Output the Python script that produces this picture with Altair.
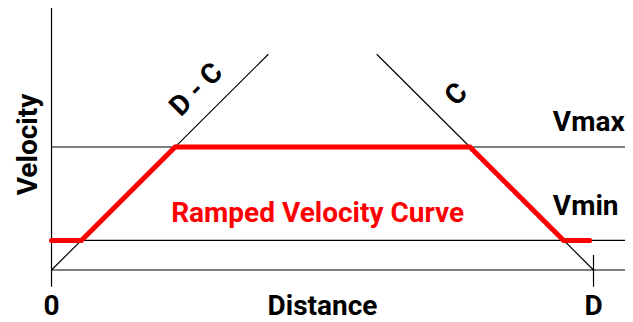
import altair as alt
import pandas as pd

# ---- data (distance: 0 .. D = 100 ; velocity: Vmax = 100) ----
D_DIST = 100
V_MAX = 100
V_MIN = 24

# horizontal reference levels: axis (0), Vmin, Vmax
level_y = [0, V_MIN, V_MAX]

# "D - C" acceleration guide line and "C" deceleration guide line
accel_x = [0, 40]
accel_y = [0, 175.4]
decel_x = [60, 100]
decel_y = [175.4, 0]

# ramped velocity curve
curve_x = [0, 5.5, 22.8, 77.2, 94.5, 99.3]
curve_y = [V_MIN, V_MIN, V_MAX, V_MAX, V_MIN, V_MIN]

# axis tick labels and titles
tick_text = ["0", "D"]
tick_x = [0, D_DIST]
x_title = "Distance"
y_title = "Velocity"
level_text = ["Vmax", "Vmin"]
line_text = ["D - C", "C"]
curve_text = "Ramped Velocity Curve"

# ---- scales ----
X_DOM = [-8.03, 105.81]
Y_DOM = [-42.28, 213.0]
xs = alt.Scale(domain=X_DOM, nice=False, zero=False)
ys = alt.Scale(domain=Y_DOM, nice=False, zero=False)
FONT = "Roboto"
FS = 28
LINE = "#000"
LW = 1.2

def X(f="x"):
    return alt.X(f"{f}:Q", scale=xs, axis=None)

def Y(f="y"):
    return alt.Y(f"{f}:Q", scale=ys, axis=None)

levels = pd.DataFrame({"y": level_y, "x": [0] * 3, "x2": [X_DOM[1]] * 3})
h_rules = alt.Chart(levels).mark_rule(color=LINE, strokeWidth=LW).encode(
    x=X(), x2="x2:Q", y=Y()
)

yaxis = pd.DataFrame({"x": [0, D_DIST], "y": [-13.6, -13.6], "y2": [Y_DOM[1], 12.2]})
v_rules = alt.Chart(yaxis).mark_rule(color=LINE, strokeWidth=LW).encode(
    x=X(), y=Y(), y2="y2:Q"
)

guides = pd.DataFrame({
    "x": accel_x + decel_x,
    "y": accel_y + decel_y,
    "g": ["a", "a", "d", "d"],
})
guide_lines = alt.Chart(guides).mark_line(color=LINE, strokeWidth=LW).encode(
    x=X(), y=Y(), detail="g:N"
)

curve = pd.DataFrame({"x": curve_x, "y": curve_y, "o": list(range(len(curve_x)))})
curve_line = alt.Chart(curve).mark_line(
    color="#ff0000", strokeWidth=5, strokeCap="round", strokeJoin="miter"
).encode(x=X(), y=Y(), order="o:Q")

ticks = pd.DataFrame({"t": tick_text + [x_title], "x": tick_x + [50], "y": [-36.8] * 3})
tick_labels = alt.Chart(ticks).mark_text(
    font=FONT, fontWeight="bold", fontSize=FS, color="#000", align="center", baseline="alphabetic"
).encode(x=X(), y=Y(), text="t:N")

lv = pd.DataFrame({"t": level_text, "x": [92.5, 92.5], "y": [113.0, 44.7]})
level_labels = alt.Chart(lv).mark_text(
    font=FONT, fontWeight="bold", fontSize=FS, color="#000", align="left", baseline="alphabetic"
).encode(x=X(), y=Y(), text="t:N")

vy = pd.DataFrame({"t": [y_title], "x": [-2.68], "y": [102.0]})
vel_label = alt.Chart(vy).mark_text(
    font=FONT, fontWeight="bold", fontSize=FS, color="#000", align="center",
    baseline="alphabetic", angle=270
).encode(x=X(), y=Y(), text="t:N")

ln = pd.DataFrame({"t": line_text, "x": [26.8, 74.8], "y": [146.3, 142.3]})
line_labels = alt.Chart(ln).mark_text(
    font=FONT, fontWeight="bold", fontSize=FS, color="#000", align="center",
    baseline="middle", angle=315
).encode(x=X(), y=Y(), text="t:N")

cv = pd.DataFrame({"t": [curve_text], "x": [49.1], "y": [39.0]})
curve_label = alt.Chart(cv).mark_text(
    font=FONT, fontWeight="bold", fontSize=FS, color="#ff0000", align="center", baseline="alphabetic"
).encode(x=X(), y=Y(), text="t:N")

chart = alt.layer(
    h_rules, v_rules, guide_lines, curve_line,
    tick_labels, level_labels, vel_label, line_labels, curve_label
).properties(
    width=617, height=314, padding=0, autosize=alt.AutoSizeParams(type="none"),
    background="white"
).configure_view(stroke=None)

chart.save("out.html", embed_options={"renderer": "svg", "actions": False})
